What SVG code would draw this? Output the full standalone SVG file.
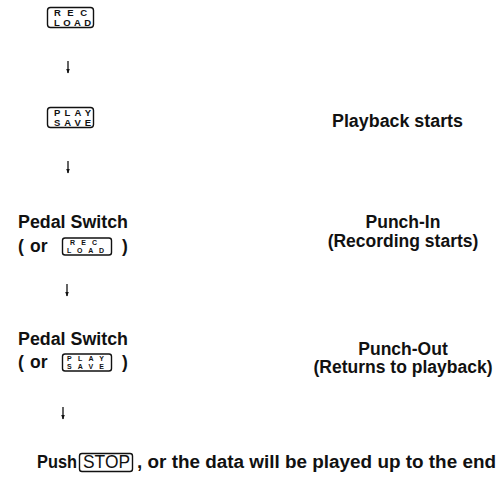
<svg xmlns="http://www.w3.org/2000/svg" width="498" height="480" viewBox="0 0 498 480">
<defs>
<marker id="ah" markerWidth="5" markerHeight="4" refX="4.5" refY="2" orient="auto" markerUnits="userSpaceOnUse" viewBox="0 0 5 4">
<path d="M0,0 L5,2 L0,4 Z" fill="#111"/>
</marker>
</defs>
<style>
.t{font-family:"Liberation Sans",Arial,Helvetica,sans-serif;font-size:17.5px;font-weight:bold;fill:#111}
.r{font-family:"Liberation Sans",Arial,Helvetica,sans-serif;font-size:18px;font-weight:normal;fill:#111}
.k{font-family:"Liberation Sans",Arial,Helvetica,sans-serif;font-weight:bold;fill:#111}
.box{fill:none;stroke:#111;stroke-width:1.4}
.arr{stroke:#111;stroke-width:1.3;fill:none;marker-end:url(#ah)}
.c{text-anchor:middle}
</style>
<rect width="498" height="480" fill="#fff"/>

<g id="key-rec-load">
<rect class="box" x="47.5" y="7.5" width="46" height="20" rx="3"/>
<text class="k" font-size="9.5" x="54" y="16" textLength="33" lengthAdjust="spacing">REC</text>
<text class="k" font-size="9.5" x="54" y="25.5" textLength="37" lengthAdjust="spacing">LOAD</text>
</g>

<g id="key-play-save">
<rect class="box" x="47.5" y="107.5" width="46" height="20" rx="3"/>
<text class="k" font-size="9.5" x="54" y="116" textLength="37" lengthAdjust="spacing">PLAY</text>
<text class="k" font-size="9.5" x="54" y="125.5" textLength="37" lengthAdjust="spacing">SAVE</text>
</g>

<g id="playback-starts">
<text class="t" x="332" y="127" textLength="131" lengthAdjust="spacingAndGlyphs">Playback starts</text>
</g>

<g id="pedal-switch-1">
<text class="t" x="18" y="228" textLength="110" lengthAdjust="spacingAndGlyphs">Pedal Switch</text>
<text class="t" x="18" y="252">(</text>
<text class="t" x="30" y="252">or</text>
<rect class="box" x="62.5" y="238" width="49" height="17" rx="2.5"/>
<text class="k" font-size="7" x="70" y="245" textLength="27" lengthAdjust="spacing">REC</text>
<text class="k" font-size="7" x="67" y="253" textLength="37" lengthAdjust="spacing">LOAD</text>
<text class="t" x="122" y="252">)</text>
</g>

<g id="punch-in">
<text class="t c" x="403" y="228">Punch-In</text>
<text class="t c" x="403" y="246.5">(Recording starts)</text>
</g>

<g id="pedal-switch-2">
<text class="t" x="18" y="345" textLength="110" lengthAdjust="spacingAndGlyphs">Pedal Switch</text>
<text class="t" x="18" y="368">(</text>
<text class="t" x="30" y="368">or</text>
<rect class="box" x="62.5" y="354" width="49" height="17" rx="2.5"/>
<text class="k" font-size="7" x="67" y="361" textLength="37" lengthAdjust="spacing">PLAY</text>
<text class="k" font-size="7" x="67" y="369" textLength="37" lengthAdjust="spacing">SAVE</text>
<text class="t" x="122" y="368">)</text>
</g>

<g id="punch-out">
<text class="t c" x="403" y="354.5">Punch-Out</text>
<text class="t c" x="403" y="373">(Returns to playback)</text>
</g>

<g id="push-stop">
<text class="t" x="37" y="468" textLength="40" lengthAdjust="spacingAndGlyphs">Push</text>
<rect class="box" x="79.5" y="453.5" width="53" height="18" rx="2.5"/>
<text class="r" x="83" y="468" textLength="47" lengthAdjust="spacingAndGlyphs">STOP</text>
<text class="t" x="137" y="468" textLength="359" lengthAdjust="spacingAndGlyphs">, or the data will be played up to the end</text>
</g>

<g id="connectors">
<line class="arr" x1="68" y1="61" x2="68" y2="73"/>
<line class="arr" x1="68" y1="161" x2="68" y2="173"/>
<line class="arr" x1="67" y1="284" x2="67" y2="296"/>
<line class="arr" x1="63" y1="407" x2="63" y2="419"/>
</g>
</svg>
